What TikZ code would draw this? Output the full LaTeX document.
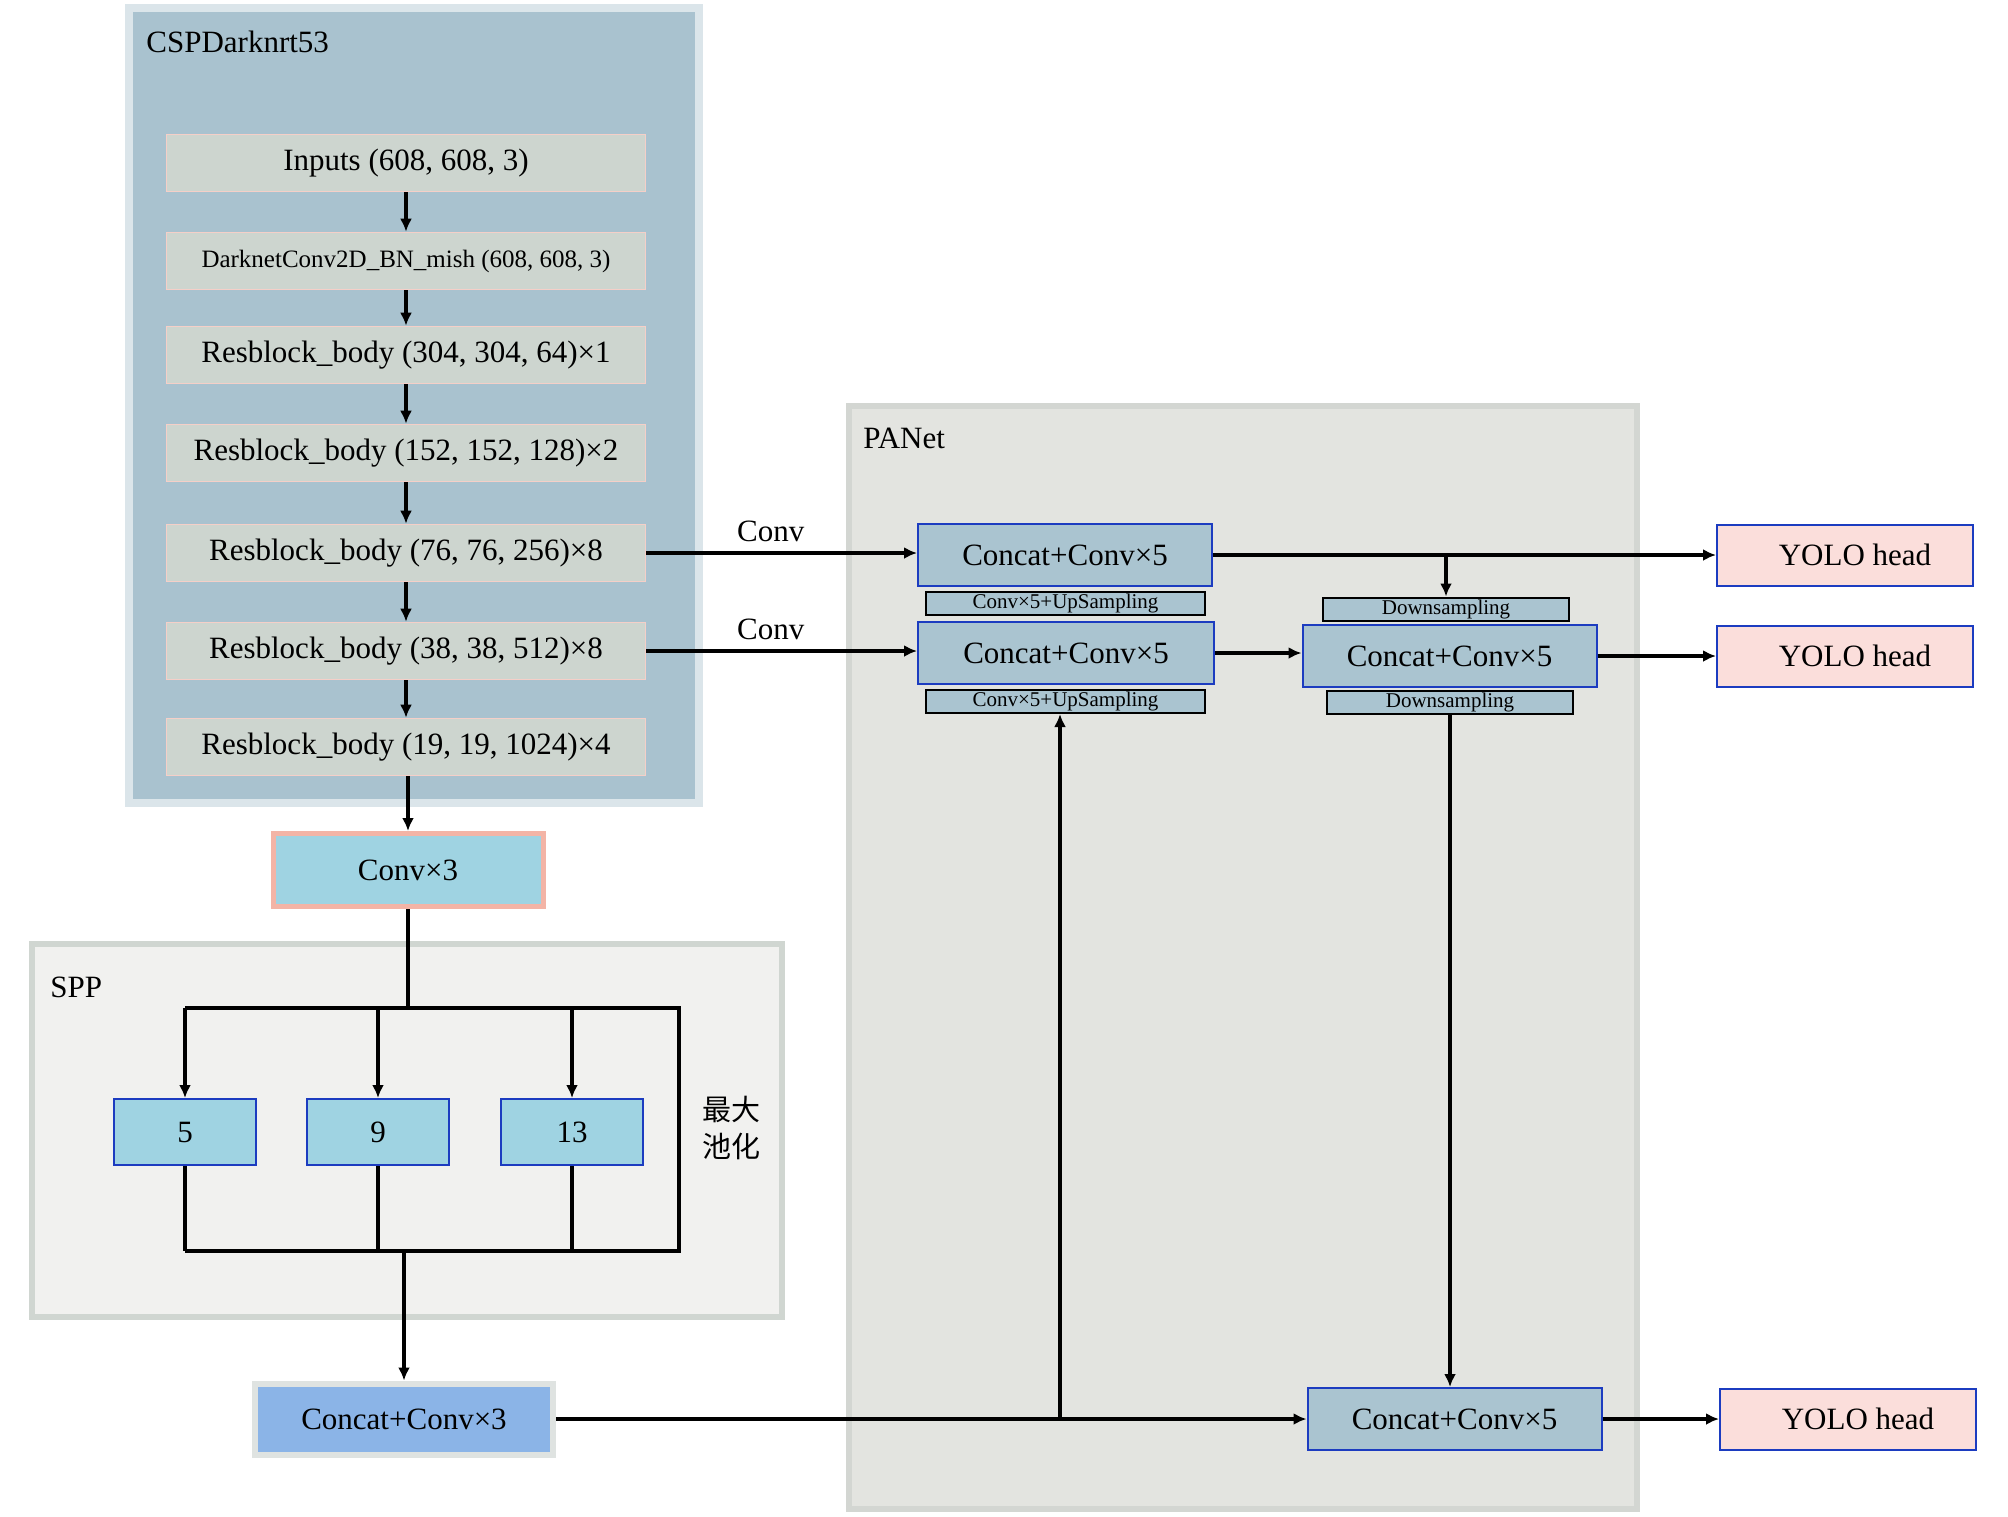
\documentclass[tikz,border=0pt]{standalone}
\usepackage{fontspec}
\setmainfont{Liberation Serif}
\newfontfamily\cjk{Noto Sans CJK SC}
\usetikzlibrary{arrows.meta}
\definecolor{cspBorder}{HTML}{DBE5EA}
\definecolor{cspFill}{HTML}{A9C2CF}
\definecolor{grayBox}{HTML}{CDD5CF}
\definecolor{pinkLine}{HTML}{F5CFC8}
\definecolor{convFill}{HTML}{9FD3E2}
\definecolor{convLine}{HTML}{F3B4A6}
\definecolor{sppBorder}{HTML}{D0D6D1}
\definecolor{sppFill}{HTML}{F1F1EF}
\definecolor{blueLine}{HTML}{1C3CC0}
\definecolor{ccFill}{HTML}{8BB4E7}
\definecolor{ccLine}{HTML}{DFE3E1}
\definecolor{panBorder}{HTML}{D3D6D2}
\definecolor{panFill}{HTML}{E3E4E0}
\definecolor{panBox}{HTML}{AAC4D0}
\definecolor{yoloFill}{HTML}{FBDEDB}
\tikzset{
  base/.style={rectangle, inner sep=0pt, font=\fontsize{15.5pt}{18pt}\selectfont},
  cspbox/.style={base, fill=grayBox, draw=pinkLine, line width=0.8pt, minimum width=239.5pt, minimum height=28.5pt},
  poolbox/.style={base, fill=convFill, draw=blueLine, line width=1pt, minimum width=71pt, minimum height=33pt},
  panbox/.style={base, fill=panBox, draw=blueLine, line width=1pt, minimum width=147pt, minimum height=31pt},
  tagbox/.style={base, fill=panBox, draw=black, line width=1pt, font=\fontsize{10.5pt}{12pt}\selectfont, minimum height=11.5pt},
  yolobox/.style={base, fill=yoloFill, draw=blueLine, line width=1pt, minimum width=128pt, minimum height=30.5pt},
  conn/.style={line width=1.6pt, draw=black},
  arr/.style={conn, -{Latex[length=6.5pt,width=6pt]}},
  grouplabel/.style={anchor=west, inner sep=0pt, font=\fontsize{15.5pt}{18pt}\selectfont},
  edgelabel/.style={above=5pt, inner sep=0pt, font=\fontsize{15.5pt}{18pt}\selectfont}
}
\begin{document}
\begin{tikzpicture}[x=0.5pt,y=-0.5pt]
\useasboundingbox (0,0) rectangle (2008,1516);
\fill[white] (0,0) rectangle (2008,1516);

% group frames
\draw[cspBorder, fill=cspFill, line width=4pt] (129,8) rectangle (699,803);
\draw[sppBorder, fill=sppFill, line width=3pt] (32,944) rectangle (782,1317);
\draw[panBorder, fill=panFill, line width=3pt] (849,406) rectangle (1637,1509);

\node[grouplabel] (lcsp) at (146,42) {CSPDarknrt53};
\node[grouplabel] (lspp) at (50,987) {SPP};
\node[grouplabel] (lpan) at (863,438) {PANet};

% backbone
\node[cspbox] (in) at (406,163) {Inputs (608, 608, 3)};
\node[cspbox, font=\fontsize{12.5pt}{14pt}\selectfont] (dk) at (406,261) {DarknetConv2D\_BN\_mish (608, 608, 3)};
\node[cspbox] (r1) at (406,355) {Resblock\_body (304, 304, 64)×1};
\node[cspbox] (r2) at (406,453) {Resblock\_body (152, 152, 128)×2};
\node[cspbox] (r3) at (406,553) {Resblock\_body (76, 76, 256)×8};
\node[cspbox] (r4) at (406,651) {Resblock\_body (38, 38, 512)×8};
\node[cspbox] (r5) at (406,747) {Resblock\_body (19, 19, 1024)×4};
\draw[arr] (in) -- (dk);
\draw[arr] (dk) -- (r1);
\draw[arr] (r1) -- (r2);
\draw[arr] (r2) -- (r3);
\draw[arr] (r3) -- (r4);
\draw[arr] (r4) -- (r5);

\node[base, fill=convFill, draw=convLine, line width=2.5pt, minimum width=135pt, minimum height=36.5pt] (cv3) at (408,870) {Conv×3};
\draw[arr] (r5.south -| cv3.north) -- (cv3.north);

% SPP
\node[poolbox] (p5) at (185,1132) {5};
\node[poolbox] (p9) at (378,1132) {9};
\node[poolbox] (p13) at (572,1132) {13};
\node[inner sep=0pt, align=center, font=\cjk\fontsize{14.5pt}{18.5pt}\selectfont] (lpool) at (731,1128) {最大\\池化};
\coordinate (tr) at (679,1008);
\coordinate (br) at (679,1251);
\draw[conn] (cv3.south) -- (cv3.south |- tr);
\draw[conn] (p5.north |- tr) -- (tr) -- (br) -- (p5.south |- br);
\draw[arr] (p5.north |- tr) -- (p5.north);
\draw[arr] (p9.north |- tr) -- (p9.north);
\draw[arr] (p13.north |- tr) -- (p13.north);
\draw[conn] (p5.south) -- (p5.south |- br);
\draw[conn] (p9.south) -- (p9.south |- br);
\draw[conn] (p13.south) -- (p13.south |- br);

\node[base, fill=ccFill, draw=ccLine, line width=3pt, minimum width=149pt, minimum height=35.5pt] (cc3) at (404,1419) {Concat+Conv×3};
\draw[arr] (cc3.north |- br) -- (cc3.north);

% PANet
\node[panbox] (c1) at (1065,555) {Concat+Conv×5};
\node[tagbox, minimum width=139.5pt] (up1) at (1065.5,603.5) {Conv×5+UpSampling};
\node[panbox, minimum width=148pt] (c2) at (1066,653) {Concat+Conv×5};
\node[tagbox, minimum width=139.5pt] (up2) at (1065.5,701.5) {Conv×5+UpSampling};
\node[panbox] (c3) at (1449.5,656) {Concat+Conv×5};
\node[tagbox, minimum width=123pt] (dn1) at (1446,609) {Downsampling};
\node[tagbox, minimum width=123pt] (dn2) at (1450,702) {Downsampling};
\node[panbox] (c4) at (1454.5,1419) {Concat+Conv×5};

\node[yolobox] (y1) at (1845,555) {\hspace*{10pt}YOLO head};
\node[yolobox] (y2) at (1845,656) {\hspace*{10pt}YOLO head};
\node[yolobox] (y3) at (1848,1419) {\hspace*{10pt}YOLO head};

\draw[arr] (r3.east) -- node[pos=0.46, edgelabel] {Conv} (r3.east -| c1.west);
\draw[arr] (r4.east) -- node[pos=0.46, edgelabel] {Conv} (r4.east -| c2.west);
\draw[arr] (c1.east) -- (c1.east -| y1.west);
\draw[arr] (dn1.north |- c1.east) -- (dn1.north);
\draw[arr] (c2.east) -- (c2.east -| c3.west);
\draw[arr] (c3.east) -- (c3.east -| y2.west);
\draw[arr] (dn2.south) -- (dn2.south |- c4.north);
\draw[arr] (cc3.east) -- (cc3.east -| c4.west);
\draw[arr] (1060,0 |- c4.west) -- (1060,0 |- up2.south);
\draw[arr] (c4.east) -- (c4.east -| y3.west);
\end{tikzpicture}
\end{document}
